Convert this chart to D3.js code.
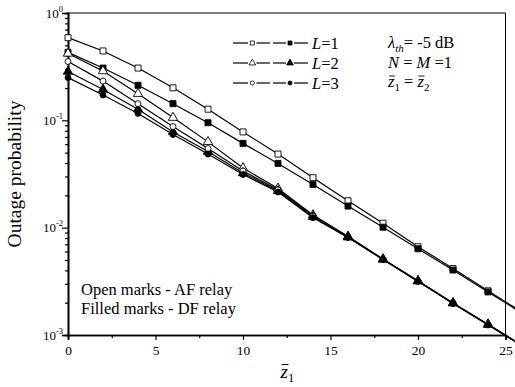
<!DOCTYPE html>
<html>
<head>
<meta charset="utf-8">
<script src="https://cdn.jsdelivr.net/npm/d3@7"></script>
<style>
  html, body { margin: 0; padding: 0; background: #fff; }
  svg { display: block; }
  text { font-family: "Liberation Serif", "Times New Roman", serif; fill: #000; }
</style>
</head>
<body>
<svg id="chart" width="515" height="387"></svg>
<script>
// ---- data ----
const zValues = [0, 2, 4, 6, 8, 10, 12, 14, 16, 18, 20, 22, 24, 26];
const afL1 = [0.589, 0.443, 0.307, 0.201, 0.127, 0.078, 0.0485, 0.0292, 0.0178, 0.0110, 0.00664, 0.00417, 0.00258, 0.00161];
const dfL1 = [0.43, 0.307, 0.212, 0.143, 0.095, 0.061, 0.0397, 0.0253, 0.0159, 0.0101, 0.00636, 0.00403, 0.00252, 0.00158];
const afL2 = [0.42, 0.288, 0.177, 0.106, 0.063, 0.0359, 0.0232, 0.0131, 0.0083, 0.0051, 0.0032, 0.00199, 0.00126, 0.00079];
const dfL2 = [0.285, 0.194, 0.127, 0.078, 0.0512, 0.0323, 0.022, 0.0126, 0.00815, 0.00506, 0.00317, 0.00198, 0.00125, 0.00079];
const afL3 = [0.353, 0.232, 0.143, 0.0875, 0.0546, 0.0337, 0.0225, 0.0128, 0.0082, 0.00508, 0.00318, 0.00198, 0.00125, 0.00079];
const dfL3 = [0.25, 0.172, 0.116, 0.0738, 0.0485, 0.0313, 0.0215, 0.0124, 0.0081, 0.00505, 0.00316, 0.00197, 0.00124, 0.00078];
const xTickValues = [0, 5, 10, 15, 20, 25];
const xMinorValues = [2.5, 7.5, 12.5, 17.5, 22.5];
const yTickExponents = [0, -1, -2, -3];
const legendLabels = ["1", "2", "3"];
const yTitle = "Outage probability";
const noteLines = ["Open marks - AF relay", "Filled marks - DF relay"];

const series = [
  { values: afL1, shape: "square", filled: false },
  { values: dfL1, shape: "square", filled: true },
  { values: afL2, shape: "triangle", filled: false },
  { values: dfL2, shape: "triangle", filled: true },
  { values: afL3, shape: "circle", filled: false },
  { values: dfL3, shape: "circle", filled: true }
];

// ---- layout ----
const svg = d3.select("#chart");
const L = 68, R = 505.5, T = 13, B = 335;
const x = d3.scaleLinear().domain([0, 25]).range([L, R]);
const y = d3.scaleLog().domain([1e-3, 1]).range([B, T]);

const symType = { square: d3.symbolSquare, triangle: d3.symbolTriangle, circle: d3.symbolCircle };
const symSize = { square: 36, triangle: 38, circle: 28 };
const symSizeLegend = { square: 16, triangle: 20, circle: 13 };

// frame (top/right)
svg.append("line").attr("x1", L).attr("x2", R).attr("y1", T).attr("y2", T).attr("stroke", "#000").attr("stroke-width", 1);
svg.append("line").attr("x1", R).attr("x2", R).attr("y1", T).attr("y2", B).attr("stroke", "#000").attr("stroke-width", 1);

// x axis
const gx = svg.append("g").attr("transform", `translate(0,${B})`)
  .call(d3.axisBottom(x).tickValues(xTickValues).tickSize(5).tickPadding(5).tickFormat(d3.format("d")));
const gxm = svg.append("g").attr("transform", `translate(0,${B})`)
  .call(d3.axisBottom(x).tickValues(xMinorValues).tickSize(3).tickFormat(""));
[gx, gxm].forEach(g => {
  g.select(".domain").attr("stroke", "#000").attr("stroke-width", 1.6);
  g.selectAll(".tick line").attr("stroke", "#000").attr("stroke-width", 1.2);
});
gx.selectAll(".tick text").style("font-family", "Liberation Serif, serif").style("font-size", "13.5px").attr("fill", "#000");

// y axis
const yMinor = [];
for (let e = -3; e < 0; e++) for (let k = 2; k <= 9; k++) yMinor.push(k * Math.pow(10, e));
const gy = svg.append("g").attr("transform", `translate(${L},0)`)
  .call(d3.axisLeft(y).tickValues(yTickExponents.map(e => Math.pow(10, e))).tickSize(6).tickFormat(""));
const gym = svg.append("g").attr("transform", `translate(${L},0)`)
  .call(d3.axisLeft(y).tickValues(yMinor).tickSize(3).tickFormat(""));
[gy, gym].forEach(g => {
  g.select(".domain").attr("stroke", "#000").attr("stroke-width", 1.6);
  g.selectAll(".tick line").attr("stroke", "#000").attr("stroke-width", 1.2);
});
yTickExponents.forEach(e => {
  const t = svg.append("text").attr("x", 63).attr("y", y(Math.pow(10, e)) + 4.5)
    .attr("text-anchor", "end").style("font-size", "13px");
  t.append("tspan").text("10");
  t.append("tspan").attr("dy", -6).style("font-size", "8.5px").text(e === 0 ? "0" : "-" + (-e));
});

// axis titles
svg.append("text").attr("transform", `translate(21,${(T + B) / 2}) rotate(-90)`)
  .attr("text-anchor", "middle").style("font-size", "19.5px").text(yTitle);

function zbar(g, px, py, sub, size) {
  const t = g.append("text").attr("x", px).attr("y", py).style("font-size", size + "px");
  t.append("tspan").style("font-style", "italic").text("z");
  t.append("tspan").attr("dy", size * 0.22).style("font-size", (size * 0.66) + "px").text(sub);
  const ext = t.node().getExtentOfChar(0);
  g.append("line").attr("x1", ext.x + 1).attr("x2", ext.x + ext.width + 0.5)
    .attr("y1", py - size * 0.68).attr("y2", py - size * 0.68).attr("stroke", "#000").attr("stroke-width", 1);
  return t;
}
zbar(svg, 280.5, 377.5, "1", 19);

// series
const line = d3.line().x((d, i) => x(zValues[i])).y(d => y(d));
series.forEach(s => {
  svg.append("path").datum(s.values).attr("d", line)
    .attr("fill", "none").attr("stroke", "#000").attr("stroke-width", 1.2);
});
series.forEach(s => {
  svg.append("g").selectAll("path").data(s.values).join("path")
    .attr("transform", (d, i) => `translate(${x(zValues[i])},${y(d)})`)
    .attr("d", d3.symbol().type(symType[s.shape]).size(symSize[s.shape]))
    .attr("fill", s.filled ? "#000" : "#fff").attr("stroke", "#000").attr("stroke-width", 0.9);
});

// legend
const shapes = ["square", "triangle", "circle"];
legendLabels.forEach((lab, i) => {
  const ly = 43 + 20 * i;
  const g = svg.append("g");
  [[233, 248], [256.5, 270], [273, 286], [294, 308]].forEach(([a, b]) => {
    g.append("line").attr("x1", a).attr("x2", b).attr("y1", ly).attr("y2", ly).attr("stroke", "#000").attr("stroke-width", 1.2);
  });
  g.append("path").attr("transform", `translate(252.3,${ly})`)
    .attr("d", d3.symbol().type(symType[shapes[i]]).size(symSizeLegend[shapes[i]]))
    .attr("fill", "#fff").attr("stroke", "#000").attr("stroke-width", 0.8);
  g.append("path").attr("transform", `translate(290,${ly})`)
    .attr("d", d3.symbol().type(symType[shapes[i]]).size(symSizeLegend[shapes[i]]))
    .attr("fill", "#000").attr("stroke", "#000").attr("stroke-width", 0.8);
  const t = g.append("text").attr("x", 312).attr("y", ly + 5.5).style("font-size", "16.5px");
  t.append("tspan").style("font-style", "italic").text("L");
  t.append("tspan").text("=" + lab);
});

// parameters text
const p1 = svg.append("text").attr("x", 388).attr("y", 48).style("font-size", "16.5px");
p1.append("tspan").style("font-style", "italic").text("λ");
p1.append("tspan").style("font-style", "italic").style("font-size", "11px").attr("dy", 4).text("th");
p1.append("tspan").attr("dy", -4).text("= -5 dB");
const p2 = svg.append("text").attr("x", 388).attr("y", 68).style("font-size", "16.5px");
p2.append("tspan").style("font-style", "italic").text("N");
p2.append("tspan").text(" = ");
p2.append("tspan").style("font-style", "italic").text("M");
p2.append("tspan").text(" =1");
// z̄1 = z̄2
const g3 = svg.append("g");
const t3 = g3.append("text").attr("x", 388).attr("y", 87).style("font-size", "16.5px");
t3.append("tspan").style("font-style", "italic").text("z");
t3.append("tspan").attr("dy", 3.5).style("font-size", "11px").text("1");
t3.append("tspan").attr("dy", -3.5).text(" = ");
t3.append("tspan").style("font-style", "italic").text("z");
t3.append("tspan").attr("dy", 3.5).style("font-size", "11px").text("2");
[0, 5].forEach(ci => {
  const ext = t3.node().getExtentOfChar(ci);
  g3.append("line").attr("x1", ext.x + 1).attr("x2", ext.x + ext.width + 0.5)
    .attr("y1", 87 - 11).attr("y2", 87 - 11).attr("stroke", "#000").attr("stroke-width", 0.9);
});

// notes
noteLines.forEach((s, i) => {
  svg.append("text").attr("x", 81).attr("y", 295 + 19 * i).style("font-size", "16.5px").text(s);
});
</script>
</body>
</html>
